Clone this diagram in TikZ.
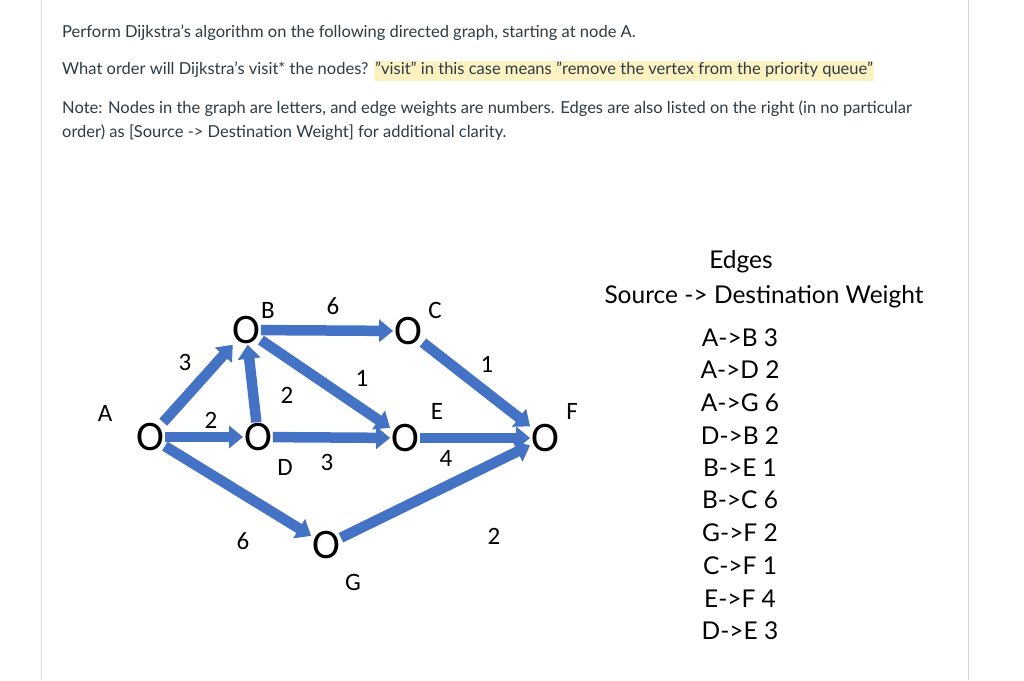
\documentclass[tikz,border=0pt]{standalone}
\usepackage{fontspec}
\setmainfont{Lato}
\newfontfamily\calfnt{Carlito}
\usetikzlibrary{arrows.meta}
\definecolor{arr}{HTML}{4472C4}
\definecolor{hl}{HTML}{FCF1C1}
\definecolor{frm}{HTML}{D9D9D9}
\definecolor{txt}{HTML}{2D3B45}
\newcommand{\dq}{\symbol{34}}
\newcommand{\sq}{\symbol{39}}
\tikzset{
 vtx/.style={font=\calfnt\fontsize{42}{42}\selectfont, inner sep=0pt, outer sep=1pt},
 lbl/.style={font=\calfnt\fontsize{25}{25}\selectfont},
 wt/.style={font=\calfnt\fontsize{25}{25}\selectfont},
 edge/.style={draw=arr, line width=10.5pt, -{Triangle[width=22pt,length=14pt]}},
 para/.style={anchor=west, font=\fontsize{16.5}{16.5}\selectfont, text=txt, inner sep=0pt},
 lst/.style={font=\fontsize{24.5}{24.5}\selectfont}
}
\begin{document}
\begin{tikzpicture}[x=1pt,y=-1pt]
\useasboundingbox (0,0) rectangle (1024,680);
\fill[white] (0,0) rectangle (1024,680);
\draw[frm] (41,0) -- (41,680);
\draw[frm] (968,0) -- (968,680);
\node[para] (t1) at (62,33) {Perform Dijkstra\sq s algorithm on the following directed graph, starting at node A.};
\node[para] (t2) at (62,71) {What order will Dijkstra\sq s visit* the nodes? \setlength{\fboxsep}{1pt}\colorbox{hl}{\strut\dq visit\dq{} in this case means \dq remove the vertex from the priority queue\dq}};
\node[para] (t3) at (62,109) {Note: Nodes in the graph are letters, and edge weights are numbers. Edges are also listed on the right (in no particular};
\node[para] (t4) at (62,133) {order) as [Source -> Destination Weight] for additional clarity.};
% vertices
\node[vtx] (A) at (150,437) {O};
\node[vtx] (B) at (246,330) {O};
\node[vtx] (C) at (408,331) {O};
\node[vtx] (D) at (258,437) {O};
\node[vtx] (E) at (405,438) {O};
\node[vtx] (F) at (545,438) {O};
\node[vtx] (G) at (326,545) {O};
\node[lbl] (lA) at (105,413) {A};
\node[lbl] (lB) at (268,310) {B};
\node[lbl] (lC) at (435,310) {C};
\node[lbl] (lD) at (285,467) {D};
\node[lbl] (lE) at (437,411) {E};
\node[lbl] (lF) at (572,411) {F};
\node[lbl] (lG) at (353,582) {G};
% edges
\draw[edge] (A) -- (B);
\draw[edge] (A) -- (D);
\draw[edge] (A) -- (G);
\draw[edge] (D) -- (B);
\draw[edge] (B) -- (E);
\draw[edge] (B) -- (C);
\draw[edge] (G) -- (F);
\draw[edge] (C) -- (F);
\draw[edge] (E) -- (F);
\draw[edge] (D) -- (E);
% weights
\node[wt] (w1) at (185,362) {3};
\node[wt] (w2) at (211,420) {2};
\node[wt] (w3) at (243,541) {6};
\node[wt] (w4) at (333,306) {6};
\node[wt] (w5) at (287,395) {2};
\node[wt] (w6) at (362,378) {1};
\node[wt] (w7) at (327,462) {3};
\node[wt] (w8) at (487,364) {1};
\node[wt] (w9) at (446,458) {4};
\node[wt] (w10) at (494,536) {2};
% edge list
\node[lst] (h1) at (741,262) {Edges};
\node[lst] (h2) at (764,297) {Source -> Destination Weight};
\node[lst] (e1) at (740,338) {A->B 3};
\node[lst] (e2) at (740,370) {A->D 2};
\node[lst] (e3) at (740,403) {A->G 6};
\node[lst] (e4) at (740,436) {D->B 2};
\node[lst] (e5) at (740,468) {B->E 1};
\node[lst] (e6) at (740,500) {B->C 6};
\node[lst] (e7) at (740,533) {G->F 2};
\node[lst] (e8) at (740,566) {C->F 1};
\node[lst] (e9) at (740,599) {E->F 4};
\node[lst] (e10) at (740,631) {D->E 3};
\end{tikzpicture}
\end{document}
